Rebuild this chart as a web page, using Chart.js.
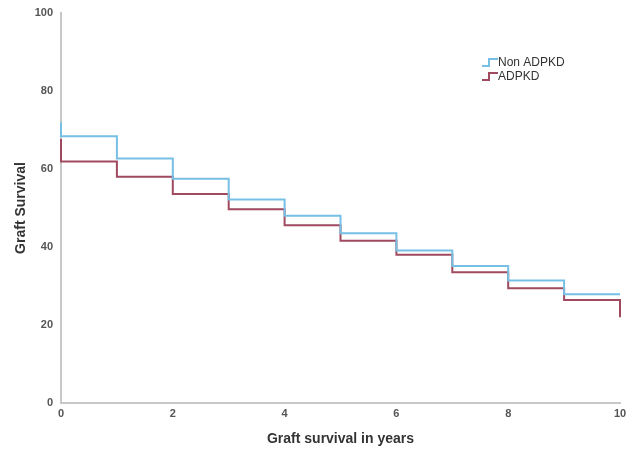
<!DOCTYPE html>
<html>
<head>
<meta charset="utf-8">
<script src="https://cdn.jsdelivr.net/npm/chart.js@4.4.0/dist/chart.umd.min.js"></script>
<style>
  html, body { margin: 0; padding: 0; background: #fff; }
  #wrap { width: 627px; height: 452px; }
</style>
</head>
<body>
<div id="wrap"><canvas id="grafico"></canvas></div>
<script>
// Datos
const years = [0, 1, 2, 3, 4, 5, 6, 7, 8, 9, 10];
const nonAdpkdStart = 72;
const nonAdpkd = [68.4, 62.7, 57.5, 52.2, 48.0, 43.5, 39.1, 35.1, 31.4, 27.9];
const adpkdStart = 67.7;
const adpkd = [61.9, 58.0, 53.6, 49.7, 45.6, 41.6, 38.0, 33.5, 29.4, 26.4];
const adpkdEnd = 22;
const xTicks = [0, 2, 4, 6, 8, 10];
const yTicks = [0, 20, 40, 60, 80, 100];

const azul = '#76bfe5';
const granate = '#a04a60';
const fuente = '"Liberation Sans", Arial, sans-serif';

// Puntos de la curva escalonada (nivel constante hasta el siguiente año)
function puntos(inicio, valores, fin) {
  const pts = [{ x: years[0], y: inicio }];
  valores.forEach((v, i) => pts.push({ x: years[i], y: v }));
  const ultimo = valores[valores.length - 1];
  pts.push({ x: years[years.length - 1], y: ultimo });
  if (fin !== undefined) pts.push({ x: years[years.length - 1], y: fin });
  return pts;
}

// Leyenda con simbolo escalonado
const leyendaPlugin = {
  id: 'leyendaEscalon',
  afterDraw(chart) {
    const c = chart.ctx;
    c.save();
    c.font = '12px ' + fuente;
    c.textBaseline = 'middle';
    chart.data.datasets.forEach((ds, i) => {
      const y = 63 + i * 14;
      c.strokeStyle = ds.borderColor;
      c.lineWidth = 2;
      c.beginPath();
      c.moveTo(482, y + 3);
      c.lineTo(489, y + 3);
      c.lineTo(489, y - 4);
      c.lineTo(498, y - 4);
      c.stroke();
      c.fillStyle = '#333';
      c.fillText(ds.label, 498, y);
    });
    c.restore();
  }
};

new Chart(document.getElementById('grafico').getContext('2d'), {
  type: 'line',
  data: {
    datasets: [
      {
        label: 'Non ADPKD',
        data: puntos(nonAdpkdStart, nonAdpkd),
        borderColor: azul,
        borderWidth: 2,
        stepped: 'before',
        pointRadius: 0,
        clip: 4,
        fill: false
      },
      {
        label: 'ADPKD',
        data: puntos(adpkdStart, adpkd, adpkdEnd),
        borderColor: granate,
        borderWidth: 2,
        stepped: 'before',
        pointRadius: 0,
        clip: 4,
        fill: false
      }
    ]
  },
  options: {
    responsive: true,
    maintainAspectRatio: false,
    animation: false,
    layout: { padding: { top: 13, right: 7, left: 0, bottom: 0 } },
    plugins: {
      legend: { display: false },
      tooltip: { enabled: false }
    },
    scales: {
      x: {
        type: 'linear',
        min: 0,
        max: 10,
        afterFit: s => { s.height = 49; },
        afterBuildTicks: s => { s.ticks = xTicks.map(v => ({ value: v })); },
        grid: { display: false },
        border: { color: '#c8c8c8', width: 2 },
        ticks: {
          color: '#555',
          padding: -4,
          font: { family: fuente, size: 11, weight: 'bold' }
        },
        title: {
          display: true,
          text: 'Graft survival in years',
          color: '#333',
          font: { family: fuente, size: 14, weight: 'bold' }
        }
      },
      y: {
        min: 0,
        max: 100,
        afterFit: s => { s.width = 61; },
        afterBuildTicks: s => { s.ticks = yTicks.map(v => ({ value: v })); },
        grid: { display: false },
        border: { color: '#c8c8c8', width: 2 },
        ticks: {
          color: '#555',
          padding: 0,
          font: { family: fuente, size: 11, weight: 'bold' }
        },
        title: {
          display: true,
          text: 'Graft Survival',
          color: '#333',
          padding: { top: 13 },
          font: { family: fuente, size: 14, weight: 'bold' }
        }
      }
    }
  },
  plugins: [leyendaPlugin]
});
</script>
</body>
</html>
